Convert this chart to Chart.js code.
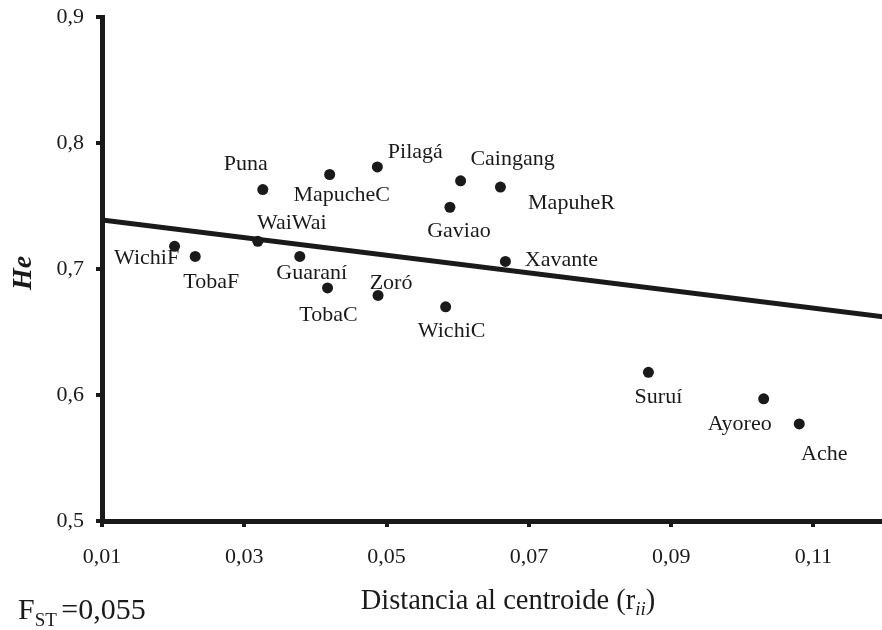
<!DOCTYPE html>
<html>
<head>
<meta charset="UTF-8">
<title>He vs distancia al centroide</title>
<script src="https://cdn.jsdelivr.net/npm/chart.js@4.4.1/dist/chart.umd.min.js"></script>
<style>
  html, body { margin: 0; padding: 0; background: #fff; overflow: hidden; }
  #wrap { width: 888px; height: 630px; position: relative; }
</style>
</head>
<body>
<div id="wrap"><canvas id="chart"></canvas></div>
<script>
// poblaciones, distancia al centroide (r_ii) y heterocigosis (He)
var pueblos = ["WichiF", "TobaF", "WaiWai", "Puna", "Guaraní", "MapucheC", "TobaC", "Pilagá", "Zoró",
               "WichiC", "Gaviao", "Caingang", "MapuheR", "Xavante", "Suruí", "Ayoreo", "Ache"];
var distancia = [0.0202, 0.0231, 0.0319, 0.0326, 0.0378, 0.0420, 0.0417, 0.0487, 0.0488,
                 0.0583, 0.0589, 0.0604, 0.0660, 0.0667, 0.0868, 0.1030, 0.1080];
var heterocig = [0.718, 0.710, 0.722, 0.763, 0.710, 0.775, 0.685, 0.781, 0.679,
                 0.670, 0.749, 0.770, 0.765, 0.706, 0.618, 0.597, 0.577];
// recta de regresion (extremos)
var rectaX = [0.01, 0.12];
var rectaY = [0.739, 0.662];
var ticksX = [0.01, 0.03, 0.05, 0.07, 0.09, 0.11];
var ticksY = [0.5, 0.6, 0.7, 0.8, 0.9];

// donde va cada etiqueta respecto al punto (px)
var desplaz = {
  "WichiF": [-28, 12], "TobaF": [16, 26], "WaiWai": [34, -18], "Puna": [-17, -25],
  "Guaraní": [12, 17], "MapucheC": [12, 21], "TobaC": [1, 27], "Pilagá": [38, -15],
  "Zoró": [13, -12], "WichiC": [6, 24], "Gaviao": [9, 24], "Caingang": [52, -22],
  "MapuheR": [71, 16], "Xavante": [56, -1], "Suruí": [10, 25], "Ayoreo": [-24, 25],
  "Ache": [25, 30]
};

var serif = "'Liberation Serif', 'DejaVu Serif', serif";

var puntos = distancia.map(function(d, i) { return { x: d, y: heterocig[i] }; });
var recta = rectaX.map(function(d, i) { return { x: d, y: rectaY[i] }; });

var textos = {
  id: 'textos',
  afterDatasetsDraw: function(chart) {
    var ctx = chart.ctx;
    var meta = chart.getDatasetMeta(1);
    ctx.save();
    ctx.fillStyle = '#1a1a1a';
    ctx.font = '22px ' + serif;
    ctx.textAlign = 'center';
    ctx.textBaseline = 'middle';
    meta.data.forEach(function(p, i) {
      var off = desplaz[pueblos[i]] || [0, 0];
      ctx.fillText(pueblos[i], p.x + off[0], p.y + off[1]);
    });

    // titulo eje y
    var area = chart.chartArea;
    ctx.save();
    ctx.translate(24, (area.top + area.bottom) / 2 + 4);
    ctx.rotate(-Math.PI / 2);
    ctx.font = 'italic bold 28px ' + serif;
    ctx.fillText('He', 0, 0);
    ctx.restore();

    // titulo eje x con subindice
    ctx.textAlign = 'left';
    ctx.textBaseline = 'alphabetic';
    var t1 = 'Distancia al centroide (r';
    var sub = 'ii';
    var t2 = ')';
    ctx.font = '28.5px ' + serif;
    var w1 = ctx.measureText(t1).width;
    var w3 = ctx.measureText(t2).width;
    ctx.font = 'italic 19px ' + serif;
    var w2 = ctx.measureText(sub).width;
    var x0 = 508 - (w1 + w2 + w3) / 2;
    var base = 609;
    ctx.font = '28.5px ' + serif;
    ctx.fillText(t1, x0, base);
    ctx.font = 'italic 19px ' + serif;
    ctx.fillText(sub, x0 + w1, base + 6);
    ctx.font = '28.5px ' + serif;
    ctx.fillText(t2, x0 + w1 + w2, base);

    // F_ST
    ctx.font = '30px ' + serif;
    ctx.fillText('F', 18, 619);
    var wf = ctx.measureText('F').width;
    ctx.font = '19px ' + serif;
    ctx.fillText('ST', 18 + wf, 626);
    var ws = ctx.measureText('ST').width;
    ctx.font = '30px ' + serif;
    ctx.fillText(' =0,055', 18 + wf + ws - 3, 619);
    ctx.restore();
  }
};

var ctx = document.getElementById('chart').getContext('2d');
new Chart(ctx, {
  type: 'scatter',
  data: {
    datasets: [
      {
        type: 'line',
        data: recta,
        borderColor: '#1a1a1a',
        borderWidth: 5,
        pointRadius: 0,
        fill: false,
        order: 2
      },
      {
        data: puntos,
        backgroundColor: '#1a1a1a',
        borderColor: '#1a1a1a',
        pointRadius: 5.5,
        borderWidth: 0,
        order: 1
      }
    ]
  },
  options: {
    responsive: true,
    maintainAspectRatio: false,
    animation: false,
    layout: { padding: { top: 17, right: 0, left: 0, bottom: 0 } },
    plugins: {
      legend: { display: false },
      tooltip: { enabled: false }
    },
    scales: {
      x: {
        type: 'linear',
        min: 0.01,
        max: 0.1197,
        afterBuildTicks: function(scale) {
          scale.ticks = ticksX.map(function(v) { return { value: v }; });
        },
        afterFit: function(scale) {
          scale.height = 109;
        },
        border: { color: '#1a1a1a', width: 5 },
        grid: { drawOnChartArea: false, tickLength: 6, tickWidth: 4, tickColor: '#1a1a1a', lineWidth: 4 },
        ticks: {
          color: '#1a1a1a',
          padding: 17,
          maxRotation: 0,
          font: { family: serif, size: 22 },
          callback: function(v) { return v.toFixed(2).replace('.', ','); }
        }
      },
      y: {
        type: 'linear',
        min: 0.5,
        max: 0.9,
        afterBuildTicks: function(scale) {
          scale.ticks = ticksY.map(function(v) { return { value: v }; });
        },
        afterFit: function(scale) {
          scale.width = 102;
          scale.paddingTop = 0;
          scale.paddingBottom = 0;
        },
        border: { color: '#1a1a1a', width: 5 },
        grid: { drawOnChartArea: false, tickLength: 6, tickWidth: 4, tickColor: '#1a1a1a', lineWidth: 4 },
        ticks: {
          color: '#1a1a1a',
          padding: 12,
          font: { family: serif, size: 22 },
          callback: function(v) { return v.toFixed(1).replace('.', ','); }
        }
      }
    }
  },
  plugins: [textos]
});
</script>
</body>
</html>
